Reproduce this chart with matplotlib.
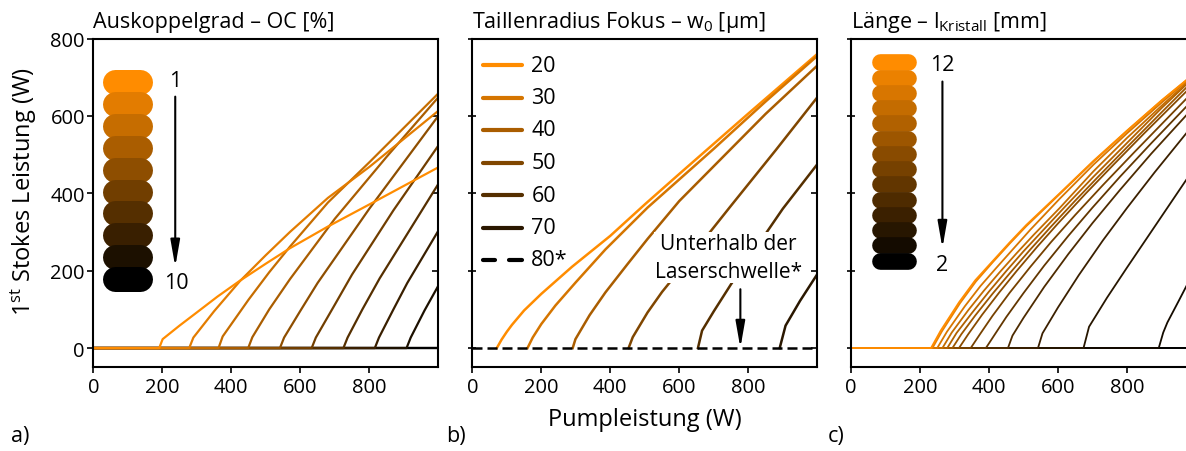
import numpy as np
import matplotlib
matplotlib.use('Agg')
import matplotlib.pyplot as plt

plt.rcParams['font.family'] = ['Open Sans', 'DejaVu Sans']
plt.rcParams['mathtext.fontset'] = 'custom'
plt.rcParams['mathtext.rm'] = 'Open Sans'
plt.rcParams['mathtext.it'] = 'Open Sans:italic'

# --- a) Auskoppelgrad OC [%] : 1 ... 10 (10 = nur Nulllinie)
oc_x = [
    [0, 191, 201, 250, 300, 360, 425, 500, 570, 680, 802, 1000],
    [0, 278, 290, 350, 425, 500, 570, 680, 800, 1000],
    [0, 363, 375, 450, 510, 570, 680, 800, 1000],
    [0, 449, 461, 510, 570, 700, 850, 1000],
    [0, 541, 553, 600, 650, 800, 1000],
    [0, 633, 645, 700, 750, 870, 1000],
    [0, 725, 737, 780, 830, 1000],
    [0, 816, 828, 870, 910, 1000],
    [0, 908, 920, 960, 1000],
    [0, 1000],
]
oc_y = [
    [0, 0, 23, 58, 92, 133, 174, 218, 258, 314, 372, 467],
    [0, 0, 27, 95, 173, 240, 300, 388, 468, 613],
    [0, 0, 30, 125, 196, 262, 376, 480, 658],
    [0, 0, 28, 100, 178, 334, 494, 648],
    [0, 0, 27, 96, 168, 360, 600],
    [0, 0, 27, 112, 190, 356, 523],
    [0, 0, 27, 100, 180, 424],
    [0, 0, 27, 100, 168, 303],
    [0, 0, 27, 97, 161],
    [0, 0],
]
oc_first, oc_last = '1', '10'

# --- b) Taillenradius w0 [um]
w0_labels = ['20', '30', '40', '50', '60', '70', '80*']
w0_x = [
    [71, 85, 100, 115, 150, 200, 289, 400, 501, 600, 800, 1000],
    [160, 175, 200, 241, 300, 386, 508, 700, 850, 1000],
    [291, 299, 340, 386, 450, 508, 600, 700, 850, 1000],
    [453, 465, 508, 550, 600, 750, 880, 1000],
    [654, 666, 700, 750, 800, 900, 1000],
    [891, 908, 950, 1000],
    [0, 1000],
]
w0_y = [
    [0, 22, 42, 60, 97, 140, 210, 290, 372, 450, 606, 760],
    [0, 27, 62, 110, 170, 255, 363, 515, 637, 755],
    [0, 23, 85, 144, 217, 282, 380, 470, 605, 730],
    [0, 28, 92, 145, 200, 368, 512, 648],
    [0, 45, 95, 165, 230, 360, 475],
    [0, 58, 122, 191],
    [0, 0],
]

# --- c) Kristalllaenge l [mm] : 12 ... 2 (letzte = nur Nulllinie)
kl_x = [
    [0, 232, 260, 313, 360, 411, 460, 508, 605, 703, 800, 900, 1000],
    [0, 236, 264, 316, 362, 411, 460, 508, 605, 703, 800, 900, 1000],
    [0, 250, 278, 330, 375, 420, 470, 520, 605, 703, 800, 900, 1000],
    [0, 265, 292, 340, 385, 430, 480, 530, 605, 703, 800, 900, 1000],
    [0, 279, 306, 350, 400, 450, 500, 550, 620, 703, 800, 900, 1000],
    [0, 294, 320, 360, 410, 460, 520, 580, 650, 720, 800, 900, 1000],
    [0, 313, 340, 380, 430, 480, 540, 600, 680, 760, 850, 1000],
    [0, 347, 374, 410, 460, 520, 580, 650, 730, 820, 1000],
    [0, 391, 416, 450, 500, 560, 630, 700, 780, 870, 1000],
    [0, 455, 468, 500, 560, 630, 700, 780, 870, 1000],
    [0, 542, 555, 600, 660, 730, 800, 880, 1000],
    [0, 674, 690, 742, 800, 900, 1000],
    [0, 892, 905, 917, 950, 1000],
    [0, 1000],
]
kl_y = [
    [0, 0, 45, 118, 175, 225, 273, 318, 400, 484, 562, 640, 713],
    [0, 0, 44, 116, 172, 222, 270, 315, 398, 482, 561, 639, 712],
    [0, 0, 42, 108, 160, 206, 256, 306, 386, 474, 555, 634, 710],
    [0, 0, 40, 98, 148, 195, 245, 293, 362, 457, 543, 626, 707],
    [0, 0, 39, 90, 146, 199, 250, 298, 365, 443, 530, 620, 705],
    [0, 0, 36, 84, 140, 193, 255, 314, 381, 446, 519, 609, 698],
    [0, 0, 36, 86, 144, 199, 262, 322, 399, 473, 555, 688],
    [0, 0, 36, 83, 143, 210, 274, 344, 421, 505, 670],
    [0, 0, 34, 80, 142, 213, 290, 363, 443, 529, 650],
    [0, 0, 32, 78, 158, 243, 323, 409, 502, 629],
    [0, 0, 38, 105, 188, 278, 362, 454, 586],
    [0, 0, 55, 130, 208, 340, 472],
    [0, 0, 40, 66, 122, 208],
    [0, 0],
]
kl_first, kl_last = '12', '2'

xticks = [0, 200, 400, 600, 800]
yticks = [0, 200, 400, 600, 800]

orange = np.array([1.0, 0.549, 0.0])


def verlauf(n):
    # Farbverlauf orange -> schwarz
    return [tuple(orange * (1 - i / (n - 1))) for i in range(n)]


pfeil = dict(arrowstyle='-|>,head_length=0.8,head_width=0.14', color='black',
             lw=1.5, mutation_scale=20, shrinkA=0, shrinkB=0)

W, H = 1186, 452
fig = plt.figure(figsize=(W / 100, H / 100), dpi=100)
ax_a = fig.add_axes([93.3 / W, 84 / H, 345 / W, 328.5 / H])
ax_b = fig.add_axes([472.3 / W, 84 / H, 345 / W, 328.5 / H])
ax_c = fig.add_axes([851 / W, 84 / H, 345 / W, 328.5 / H])

for ax in (ax_a, ax_b, ax_c):
    ax.set_xlim(0, 1000)
    ax.set_ylim(-49, 800)
    ax.set_xticks(xticks)
    ax.set_yticks(yticks)
    for s in ax.spines.values():
        s.set_linewidth(1.5)
    ax.tick_params(axis='x', direction='out', length=4.5, width=1.2, labelsize=14.5, pad=3)
    ax.tick_params(axis='y', length=4.5, width=1.2, labelsize=14.5, pad=1.5)

ax_a.tick_params(axis='y', direction='out', right=True)
for ax in (ax_b, ax_c):
    ax.tick_params(axis='y', direction='inout', length=6, labelleft=False, right=True)
for ax in (ax_a, ax_b, ax_c):
    for t in ax.yaxis.get_major_ticks():
        t.tick2line.set_marker(0)  # rechte Ticks nach innen
        t.tick2line.set_markersize(4.5)

# a) Kurven
cols_a = verlauf(len(oc_x))
ax_a.axhline(0, color='black', lw=1.6, zorder=1)
for i in range(len(oc_x) - 1, -1, -1):
    ax_a.plot(oc_x[i], oc_y[i], color=cols_a[i], lw=1.6, zorder=2)
ys = np.linspace(0.867, 0.268, len(oc_x))
for i, yy in enumerate(ys):
    ax_a.plot([0.064, 0.134], [yy, yy], transform=ax_a.transAxes, color=cols_a[i],
              lw=18, solid_capstyle='round', zorder=5)
ax_a.text(0.2375, 0.872, oc_first, transform=ax_a.transAxes, ha='center', va='center', fontsize=15.5)
ax_a.text(0.240, 0.256, oc_last, transform=ax_a.transAxes, ha='center', va='center', fontsize=15.5)
ax_a.annotate('', xy=(0.2375, 0.305), xytext=(0.2375, 0.823), xycoords='axes fraction',
              arrowprops=pfeil)
ax_a.set_title('Auskoppelgrad – OC [%]', loc='left', fontsize=15.5, pad=8)

# b) Kurven
cols_b = verlauf(len(w0_x))
for i in range(len(w0_x) - 1):
    ax_b.plot(w0_x[i], w0_y[i], color=cols_b[i], lw=1.8, zorder=2)
ax_b.plot(w0_x[-1], w0_y[-1], color='black', lw=1.8, dashes=(4, 2), zorder=3)
ys = [0.919, 0.820, 0.722, 0.622, 0.523, 0.4237, 0.327]
for i, lab in enumerate(w0_labels):
    if i < len(w0_labels) - 1:
        ax_b.plot([0.032, 0.143], [ys[i], ys[i]], transform=ax_b.transAxes, color=cols_b[i],
                  lw=3, solid_capstyle='round')
    else:
        for x0, x1 in ((0.032, 0.066), (0.106, 0.143)):
            ax_b.plot([x0, x1], [ys[i], ys[i]], transform=ax_b.transAxes, color='black',
                      lw=3, solid_capstyle='round')
    ax_b.text(0.171, ys[i], lab, transform=ax_b.transAxes, ha='left', va='center', fontsize=15.5)
ax_b.text(742, 234, 'Unterhalb der\nLaserschwelle*', ha='center', va='center', fontsize=15,
          linespacing=1.45, zorder=6,
          bbox=dict(facecolor='white', edgecolor='none', pad=0.5))
ax_b.annotate('', xy=(777, 0), xytext=(777, 152), arrowprops=pfeil, zorder=7)
ax_b.set_title(r'Taillenradius Fokus – w$_{\mathrm{0}}$ [µm]', loc='left', fontsize=15.5, pad=8)
ax_b.set_xlabel('Pumpleistung (W)', fontsize=17, labelpad=7)

# c) Kurven
cols_c = verlauf(len(kl_x))
ax_c.axhline(0, color='black', lw=1.3, zorder=1)
for i in range(len(kl_x) - 1, -1, -1):
    ax_c.plot(kl_x[i], kl_y[i], color=cols_c[i], lw=1.3, zorder=2)
ys = np.linspace(0.9276, 0.3236, len(kl_x))
for i, yy in enumerate(ys):
    ax_c.plot([0.085, 0.165], [yy, yy], transform=ax_c.transAxes, color=cols_c[i],
              lw=12, solid_capstyle='round', zorder=5)
ax_c.text(0.2636, 0.922, kl_first, transform=ax_c.transAxes, ha='center', va='center', fontsize=15.5)
ax_c.text(0.2636, 0.3135, kl_last, transform=ax_c.transAxes, ha='center', va='center', fontsize=15.5)
ax_c.annotate('', xy=(0.265, 0.362), xytext=(0.265, 0.869), xycoords='axes fraction',
              arrowprops=pfeil)
ax_c.set_title(r'Länge – l$_{\mathrm{Kristall}}$ [mm]', loc='left', fontsize=15.5, pad=8)

fig.text(24 / W, 1 - 191 / H, r'1$^{\mathrm{st}}$ Stokes Leistung (W)', rotation=90,
         ha='center', va='center', fontsize=17)
for lab, px in (('a)', 11), ('b)', 446), ('c)', 828)):
    fig.text(px / W, 1 - 437 / H, lab, ha='left', va='center', fontsize=15.5)

fig.savefig('out.png', dpi=100)
